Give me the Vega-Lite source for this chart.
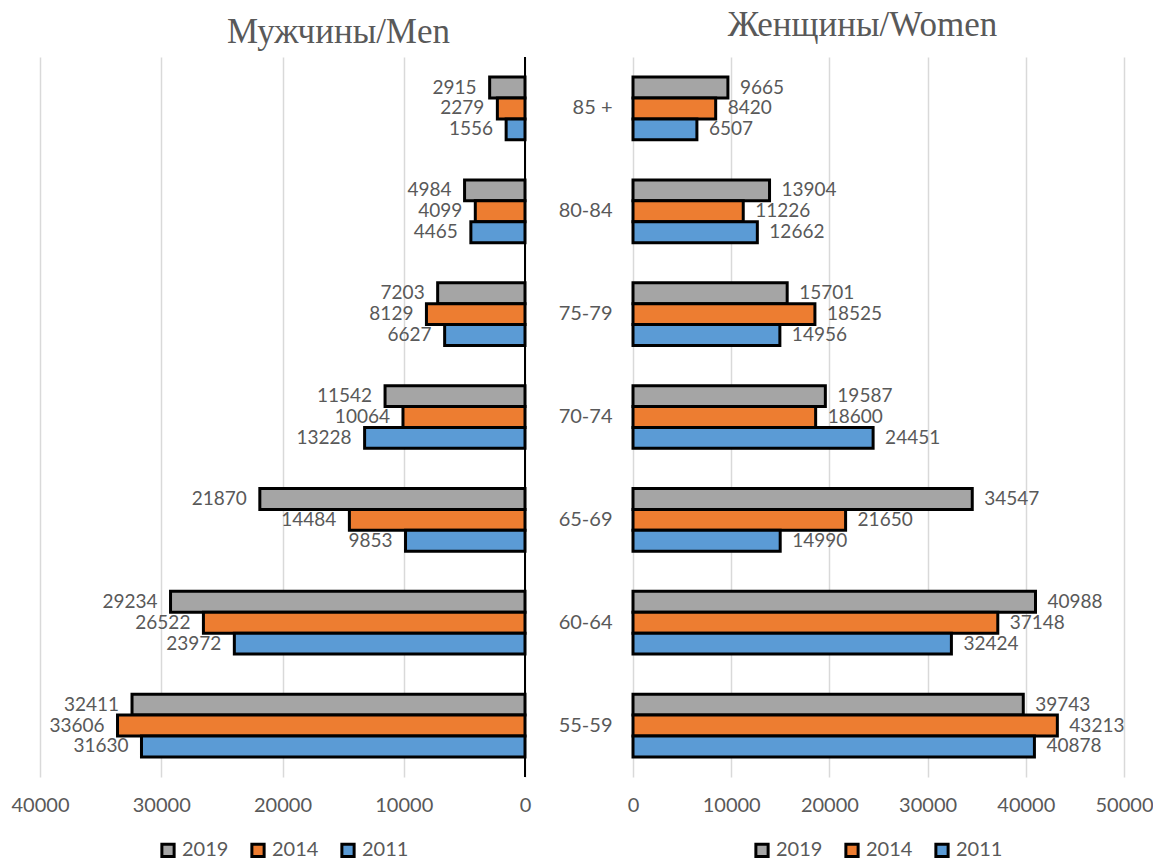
{
  "$schema": "https://vega.github.io/schema/vega-lite/v6.json",
  "padding": {"left": 11, "right": 0, "top": 8, "bottom": 5},
  "background": "white",
  "config": {
    "view": {"stroke": null},
    "font": "Lato",
    "axis": {"labelFont": "Lato", "labelFontSize": 20, "labelColor": "#595959", "gridColor": "#D9D9D9", "gridWidth": 1.5, "labelFlush": false},
    "legend": {"labelFont": "Lato", "labelFontSize": 20, "labelColor": "#595959"},
    "title": {"font": "Liberation Serif", "fontSize": 35, "fontWeight": "normal", "color": "#595959"}
  },
  "data": {"values": [
    {"sex": "Men", "age": "85 +", "year": "2019", "value": 2915},
    {"sex": "Men", "age": "85 +", "year": "2014", "value": 2279},
    {"sex": "Men", "age": "85 +", "year": "2011", "value": 1556},
    {"sex": "Men", "age": "80-84", "year": "2019", "value": 4984},
    {"sex": "Men", "age": "80-84", "year": "2014", "value": 4099},
    {"sex": "Men", "age": "80-84", "year": "2011", "value": 4465},
    {"sex": "Men", "age": "75-79", "year": "2019", "value": 7203},
    {"sex": "Men", "age": "75-79", "year": "2014", "value": 8129},
    {"sex": "Men", "age": "75-79", "year": "2011", "value": 6627},
    {"sex": "Men", "age": "70-74", "year": "2019", "value": 11542},
    {"sex": "Men", "age": "70-74", "year": "2014", "value": 10064},
    {"sex": "Men", "age": "70-74", "year": "2011", "value": 13228},
    {"sex": "Men", "age": "65-69", "year": "2019", "value": 21870},
    {"sex": "Men", "age": "65-69", "year": "2014", "value": 14484},
    {"sex": "Men", "age": "65-69", "year": "2011", "value": 9853},
    {"sex": "Men", "age": "60-64", "year": "2019", "value": 29234},
    {"sex": "Men", "age": "60-64", "year": "2014", "value": 26522},
    {"sex": "Men", "age": "60-64", "year": "2011", "value": 23972},
    {"sex": "Men", "age": "55-59", "year": "2019", "value": 32411},
    {"sex": "Men", "age": "55-59", "year": "2014", "value": 33606},
    {"sex": "Men", "age": "55-59", "year": "2011", "value": 31630},
    {"sex": "Women", "age": "85 +", "year": "2019", "value": 9665},
    {"sex": "Women", "age": "85 +", "year": "2014", "value": 8420},
    {"sex": "Women", "age": "85 +", "year": "2011", "value": 6507},
    {"sex": "Women", "age": "80-84", "year": "2019", "value": 13904},
    {"sex": "Women", "age": "80-84", "year": "2014", "value": 11226},
    {"sex": "Women", "age": "80-84", "year": "2011", "value": 12662},
    {"sex": "Women", "age": "75-79", "year": "2019", "value": 15701},
    {"sex": "Women", "age": "75-79", "year": "2014", "value": 18525},
    {"sex": "Women", "age": "75-79", "year": "2011", "value": 14956},
    {"sex": "Women", "age": "70-74", "year": "2019", "value": 19587},
    {"sex": "Women", "age": "70-74", "year": "2014", "value": 18600},
    {"sex": "Women", "age": "70-74", "year": "2011", "value": 24451},
    {"sex": "Women", "age": "65-69", "year": "2019", "value": 34547},
    {"sex": "Women", "age": "65-69", "year": "2014", "value": 21650},
    {"sex": "Women", "age": "65-69", "year": "2011", "value": 14990},
    {"sex": "Women", "age": "60-64", "year": "2019", "value": 40988},
    {"sex": "Women", "age": "60-64", "year": "2014", "value": 37148},
    {"sex": "Women", "age": "60-64", "year": "2011", "value": 32424},
    {"sex": "Women", "age": "55-59", "year": "2019", "value": 39743},
    {"sex": "Women", "age": "55-59", "year": "2014", "value": 43213},
    {"sex": "Women", "age": "55-59", "year": "2011", "value": 40878}
  ]},
  "spacing": 27,
  "resolve": {
    "scale": {"x": "independent", "y": "independent", "yOffset": "independent", "color": "independent"},
    "legend": {"color": "independent"}
  },
  "hconcat": [
    {
      "width": 485,
      "height": 720,
      "title": {"text": "Мужчины/Men", "anchor": "middle", "dx": 56, "offset": 6},
      "transform": [{"filter": "datum.sex === 'Men'"}],
      "layer": [
        {
          "mark": {"type": "bar", "stroke": "black", "strokeWidth": 3},
          "encoding": {
            "y": {"field": "age", "type": "nominal", "sort": ["85 +", "80-84", "75-79", "70-74", "65-69", "60-64", "55-59"], "axis": null, "scale": {"paddingInner": 0.39, "paddingOuter": 0.195}},
            "yOffset": {"field": "year", "type": "nominal", "sort": ["2019", "2014", "2011"], "scale": {"paddingInner": 0, "paddingOuter": 0}},
            "x": {"field": "value", "type": "quantitative", "scale": {"domain": [0, 40000], "reverse": true, "nice": false},
                  "axis": {"title": null, "values": [0, 10000, 20000, 30000, 40000], "format": "d", "domain": false, "ticks": false, "labelPadding": 18, "grid": true}},
            "color": {"field": "year", "type": "nominal", "sort": ["2019", "2014", "2011"],
                      "scale": {"domain": ["2019", "2014", "2011"], "range": ["#A5A5A5", "#ED7D31", "#5B9BD5"]},
                      "legend": {"title": null, "orient": "none", "direction": "horizontal", "legendX": 118, "legendY": 783,
                                 "symbolType": "square", "symbolSize": 150, "symbolStrokeColor": "black", "symbolStrokeWidth": 3, "symbolOpacity": 1,
                                 "labelOffset": 4, "columnPadding": 16}}
          }
        },
        {
          "mark": {"type": "text", "align": "right", "baseline": "middle", "dx": -13, "fontSize": 19, "color": "#595959", "font": "Lato"},
          "encoding": {
            "y": {"field": "age", "type": "nominal", "sort": ["85 +", "80-84", "75-79", "70-74", "65-69", "60-64", "55-59"]},
            "yOffset": {"field": "year", "type": "nominal", "sort": ["2019", "2014", "2011"]},
            "x": {"field": "value", "type": "quantitative"},
            "text": {"field": "value", "type": "quantitative", "format": "d"}
          }
        },
        {
          "mark": {"type": "rule", "color": "black", "strokeWidth": 2},
          "encoding": {"x": {"datum": 0}}
        }
      ]
    },
    {
      "width": 491,
      "height": 720,
      "title": {"text": "Женщины/Women", "anchor": "middle", "dx": -16, "offset": 14},
      "transform": [{"filter": "datum.sex === 'Women'"}],
      "layer": [
        {
          "mark": {"type": "bar", "stroke": "black", "strokeWidth": 3},
          "encoding": {
            "y": {"field": "age", "type": "nominal", "sort": ["85 +", "80-84", "75-79", "70-74", "65-69", "60-64", "55-59"],
                  "axis": {"title": null, "domain": false, "ticks": false, "labelPadding": 21, "labelFontSize": 20},
                  "scale": {"paddingInner": 0.39, "paddingOuter": 0.195}},
            "yOffset": {"field": "year", "type": "nominal", "sort": ["2019", "2014", "2011"], "scale": {"paddingInner": 0, "paddingOuter": 0}},
            "x": {"field": "value", "type": "quantitative", "scale": {"domain": [0, 50000], "nice": false},
                  "axis": {"title": null, "values": [0, 10000, 20000, 30000, 40000, 50000], "format": "d", "domain": false, "ticks": false, "labelPadding": 18, "grid": true}},
            "color": {"field": "year", "type": "nominal", "sort": ["2019", "2014", "2011"],
                      "scale": {"domain": ["2019", "2014", "2011"], "range": ["#A5A5A5", "#ED7D31", "#5B9BD5"]},
                      "legend": {"title": null, "orient": "none", "direction": "horizontal", "legendX": 119, "legendY": 783,
                                 "symbolType": "square", "symbolSize": 150, "symbolStrokeColor": "black", "symbolStrokeWidth": 3, "symbolOpacity": 1,
                                 "labelOffset": 4, "columnPadding": 16}}
          }
        },
        {
          "mark": {"type": "text", "align": "left", "baseline": "middle", "dx": 12, "fontSize": 19, "color": "#595959", "font": "Lato"},
          "encoding": {
            "y": {"field": "age", "type": "nominal", "sort": ["85 +", "80-84", "75-79", "70-74", "65-69", "60-64", "55-59"]},
            "yOffset": {"field": "year", "type": "nominal", "sort": ["2019", "2014", "2011"]},
            "x": {"field": "value", "type": "quantitative"},
            "text": {"field": "value", "type": "quantitative", "format": "d"}
          }
        }
      ]
    }
  ]
}
